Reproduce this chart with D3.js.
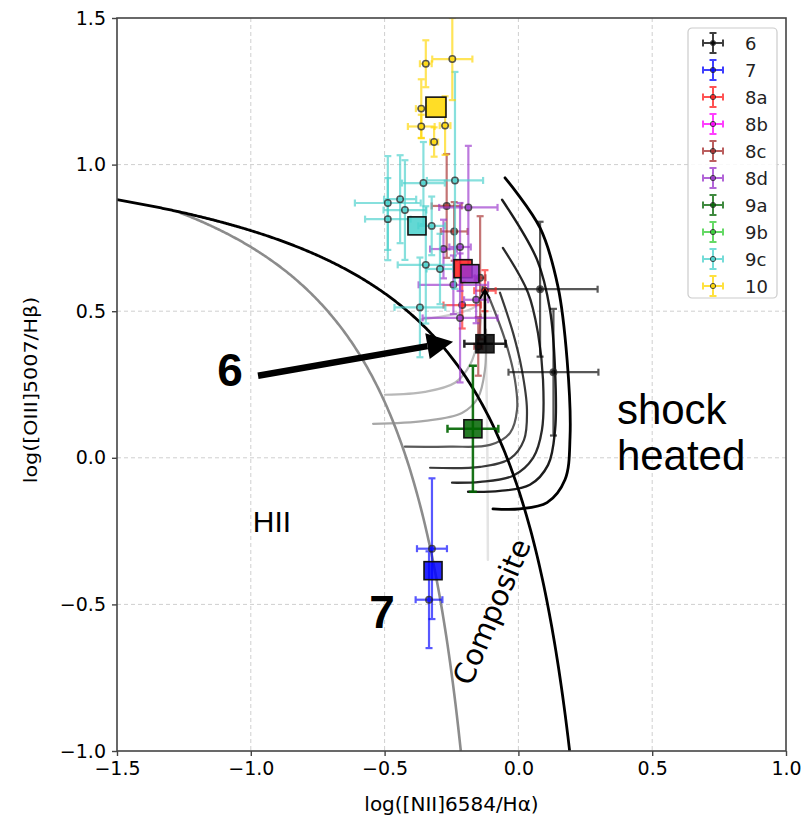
<!DOCTYPE html>
<html>
<head>
<meta charset="utf-8">
<script src="https://cdn.jsdelivr.net/npm/d3@7"></script>
<style>
  body { margin: 0; background: #fff; }
  text { font-family: "DejaVu Sans", sans-serif; }
</style>
</head>
<body>
<svg id="chart" width="808" height="819"></svg>
<script>
// ---- axes ----
const xTicks = [-1.5, -1.0, -0.5, 0.0, 0.5, 1.0];
const yTicks = [-1.0, -0.5, 0.0, 0.5, 1.0, 1.5];
const xLabel = "log([NII]6584/Hα)";
const yLabel = "log([OIII]5007/Hβ)";

// ---- demarcation lines: y = a / (x - b) + c ----
const kewley01 = { a: 0.61, b: 0.47, c: 1.19, xStart: -1.5 };
const kauffmann03 = { a: 0.61, b: 0.05, c: 1.30, xStart: -1.28 };

// ---- shock model grid tracks [log NII/Ha, log OIII/Hb] ----
const shockTrack1 = [[-0.050,0.955],[0.081,0.784],[0.148,0.583],[0.182,0.334],[0.193,0.072],[0.174,-0.075],[0.107,-0.153],[0.006,-0.174],[-0.095,-0.174]];
const shockTrack2 = [[-0.061,0.880],[0.070,0.675],[0.118,0.505],[0.137,0.300],[0.137,0.095],[0.111,-0.024],[0.043,-0.092],[-0.069,-0.113],[-0.188,-0.116]];
const shockTrack3 = [[-0.058,0.716],[0.036,0.563],[0.073,0.426],[0.092,0.266],[0.088,0.095],[0.055,0.000],[-0.020,-0.061],[-0.143,-0.082],[-0.248,-0.085]];
const shockTrack4 = [[-0.069,0.563],[-0.020,0.426],[0.013,0.300],[0.032,0.164],[0.021,0.061],[-0.031,-0.003],[-0.143,-0.031],[-0.330,-0.034]];
const shockTrack5 = [[-0.106,0.539],[-0.050,0.402],[-0.013,0.266],[-0.005,0.164],[-0.031,0.085],[-0.106,0.044],[-0.256,0.038],[-0.424,0.038]];
const shockTrack6 = [[-0.543,0.116],[-0.349,0.126],[-0.211,0.153],[-0.151,0.205],[-0.125,0.300],[-0.121,0.437]];
const shockTrack7 = [[-0.499,0.215],[-0.349,0.225],[-0.237,0.256],[-0.181,0.317],[-0.151,0.402],[-0.140,0.488]];
const shockTrack8 = [[-0.368,0.471],[-0.237,0.491],[-0.162,0.515],[-0.125,0.556]];
const shockTrack9 = [[-0.125,0.539],[-0.117,0.130],[-0.114,-0.348]];

// ---- regions ----
const groups = ["6", "7", "8a", "8b", "8c", "8d", "9a", "9b", "9c", "10"];
const groupColors = ["#000000", "#0000ff", "#ff1a1a", "#ff00ff", "#a52a2a", "#9932cc", "#006400", "#32cd32", "#48d1cc", "#ffd700"];

// individual spaxels: [x, y, xerr, yerrLow, yerrHigh]
const spax6  = [[0.081,0.575,0.215,0.23,0.23],[0.131,0.292,0.168,0.216,0.216]];
const spax7  = [[-0.323,-0.310,0.056,0.24,0.24],[-0.334,-0.484,0.050,0.165,0.165]];
const spax8a = [[-0.210,0.521,0.070,0.08,0.08],[-0.125,0.570,0.040,0.07,0.07]];
const spax8b = [];
const spax8c = [[-0.268,0.859,0.056,0.177,0.177],[-0.240,0.772,0.050,0.10,0.10],[-0.143,0.614,0.020,0.21,0.21],[-0.150,0.380,0.015,0.10,0.10]];
const spax8d = [[-0.187,0.854,0.109,0.21,0.21],[-0.218,0.719,0.040,0.15,0.15],[-0.280,0.712,0.050,0.10,0.10],[-0.243,0.590,0.130,0.10,0.10],[-0.158,0.539,0.045,0.08,0.08],[-0.218,0.477,0.140,0.22,0.22]];
const spax9a = [];
const spax9b = [];
const spax9c = [[-0.237,0.946,0.105,0.37,0.37],[-0.355,0.937,0.080,0.14,0.14],[-0.488,0.869,0.123,0.16,0.16],[-0.442,0.882,0.060,0.15,0.15],[-0.424,0.845,0.080,0.17,0.17],[-0.488,0.814,0.085,0.14,0.14],[-0.324,0.791,0.050,0.10,0.10],[-0.346,0.658,0.105,0.20,0.20],[-0.293,0.644,0.050,0.12,0.12],[-0.368,0.513,0.095,0.17,0.17]];
const spax10 = [[-0.346,1.344,0.022,0.08,0.08],[-0.247,1.360,0.075,0.14,0.14],[-0.363,1.191,0.020,0.10,0.10],[-0.363,1.130,0.050,0.04,0.04],[-0.274,1.133,0.020,0.10,0.10],[-0.315,1.077,0.015,0.05,0.05]];
const spaxels = [spax6, spax7, spax8a, spax8b, spax8c, spax8d, spax9a, spax9b, spax9c, spax10];

// region averages: [x, y, xerr, yerrLow, yerrHigh] (null when not plotted)
const regionMeans = [
  [-0.125, 0.389, 0.077, 0.0, 0.184],
  [-0.319, -0.385, 0.0, 0.0, 0.0],
  [-0.207, 0.645, 0.0, 0.0, 0.0],
  null,
  null,
  [-0.181, 0.628, 0.0, 0.0, 0.0],
  [-0.170, 0.099, 0.095, 0.215, 0.215],
  null,
  [-0.379, 0.791, 0.0, 0.0, 0.0],
  [-0.308, 1.196, 0.0, 0.0, 0.0]
];
const upperLimitGroup = "6";

// ---- annotations ----
const arrowFrom = [-0.973, 0.280];
const arrowTo = [-0.244, 0.396];

// ---- layout ----
const W = 808, H = 819;
const plot = { left: 117, right: 786, top: 18, bottom: 751 };
const svg = d3.select("#chart");
svg.append("rect").attr("width", W).attr("height", H).attr("fill", "#fff");

const x = d3.scaleLinear().domain([-1.5, 1.0]).range([plot.left, plot.right]);
const y = d3.scaleLinear().domain([-1.0, 1.5]).range([plot.bottom, plot.top]);

svg.append("defs").append("clipPath").attr("id", "plotClip")
  .append("rect").attr("x", plot.left).attr("y", plot.top)
  .attr("width", plot.right - plot.left).attr("height", plot.bottom - plot.top);

// grid
const grid = svg.append("g").attr("stroke", "#cfcfcf").attr("stroke-width", 1).attr("stroke-dasharray", "4,3");
grid.selectAll(".gx").data(xTicks.slice(1, -1)).join("line")
  .attr("x1", d => x(d)).attr("x2", d => x(d)).attr("y1", plot.top).attr("y2", plot.bottom);
grid.selectAll(".gy").data(yTicks.slice(1, -1)).join("line")
  .attr("y1", d => y(d)).attr("y2", d => y(d)).attr("x1", plot.left).attr("x2", plot.right);

const body = svg.append("g").attr("clip-path", "url(#plotClip)");
const line = d3.line().x(d => x(d[0])).y(d => y(d[1]));
const smooth = d3.line().x(d => x(d[0])).y(d => y(d[1])).curve(d3.curveCatmullRom.alpha(0.5));

// shock model tracks
const shockTracks = [shockTrack9, shockTrack8, shockTrack7, shockTrack6, shockTrack5, shockTrack4, shockTrack3, shockTrack2, shockTrack1];
const trackShades = ["#e4e4e4", "#cdcdcd", "#b8b8b8", "#a8a8a8", "#5a5a5a", "#3a3a3a", "#2a2a2a", "#1c1c1c", "#000000"];
const trackWidths = [2.5, 2.2, 2.2, 2.2, 2.2, 2.2, 2.3, 2.4, 2.8];
shockTracks.forEach((t, i) => {
  body.append("path").attr("d", smooth(t)).attr("fill", "none")
    .attr("stroke", trackShades[i]).attr("stroke-width", trackWidths[i])
    .attr("stroke-linecap", "round");
});

// demarcation curves
function demarcation(p) {
  const xEnd = p.b + p.a / (-1.0 - p.c);
  const xs = d3.range(p.xStart, xEnd, 0.005).concat([xEnd]);
  return xs.map(v => [v, p.a / (v - p.b) + p.c]);
}
body.append("path").attr("d", line(demarcation(kauffmann03))).attr("fill", "none")
  .attr("stroke", "#8c8c8c").attr("stroke-width", 2.6);
body.append("path").attr("d", line(demarcation(kewley01))).attr("fill", "none")
  .attr("stroke", "#000").attr("stroke-width", 2.8);

// error bars
function errorBar(g, d, color, cap, width, opacity) {
  const [px, py, xe, yl, yh] = d;
  const e = g.append("g").attr("stroke", color).attr("stroke-width", width).attr("opacity", opacity);
  if (xe > 0) {
    e.append("line").attr("x1", x(px - xe)).attr("x2", x(px + xe)).attr("y1", y(py)).attr("y2", y(py));
    [px - xe, px + xe].forEach(v => e.append("line").attr("x1", x(v)).attr("x2", x(v))
      .attr("y1", y(py) - cap).attr("y2", y(py) + cap));
  }
  if (yl > 0 || yh > 0) {
    e.append("line").attr("x1", x(px)).attr("x2", x(px)).attr("y1", y(py - yl)).attr("y2", y(py + yh));
    [[py - yl, yl], [py + yh, yh]].forEach(([v, len]) => {
      if (len > 0) e.append("line").attr("y1", y(v)).attr("y2", y(v))
        .attr("x1", x(px) - cap).attr("x2", x(px) + cap);
    });
  }
}

groups.forEach((gname, i) => {
  const g = body.append("g");
  spaxels[i].forEach(d => errorBar(g, d, groupColors[i], 3.5, 2.2, 0.65));
  spaxels[i].forEach(d => {
    g.append("circle").attr("cx", x(d[0])).attr("cy", y(d[1])).attr("r", 3.2)
      .attr("fill", groupColors[i]).attr("stroke", "#222").attr("stroke-width", 1.5).attr("opacity", 0.75);
  });
});

// region averages
groups.forEach((gname, i) => {
  const m = regionMeans[i];
  if (!m) return;
  const g = body.append("g");
  if (gname === upperLimitGroup) {
    // upper-limit bar with arrow head
    const top = y(m[1] + m[4]);
    g.append("line").attr("x1", x(m[0])).attr("x2", x(m[0])).attr("y1", y(m[1])).attr("y2", top + 2)
      .attr("stroke", "#000").attr("stroke-width", 2.5);
    g.append("path").attr("d", `M${x(m[0]) - 5},${top + 9} L${x(m[0])},${top} L${x(m[0]) + 5},${top + 9}`)
      .attr("fill", "none").attr("stroke", "#000").attr("stroke-width", 2);
    errorBar(g, [m[0], m[1], m[2], 0, 0], "#000", 4, 2.5, 0.85);
  } else {
    errorBar(g, m, groupColors[i], 4, 2.5, 0.9);
  }
  const s = gname === "10" ? 20 : 18;
  g.append("rect").attr("x", x(m[0]) - s / 2).attr("y", y(m[1]) - s / 2)
    .attr("width", s).attr("height", s)
    .attr("fill", groupColors[i]).attr("fill-opacity", 0.85)
    .attr("stroke", "#111").attr("stroke-width", 1.6);
});

// arrow pointing at region 6
(function () {
  const x0 = x(arrowFrom[0]), y0 = y(arrowFrom[1]);
  const x1 = x(arrowTo[0]), y1 = y(arrowTo[1]);
  const ang = Math.atan2(y1 - y0, x1 - x0);
  const headL = 26, headW = 13;
  const bx = x1 - headL * Math.cos(ang), by = y1 - headL * Math.sin(ang);
  svg.append("line").attr("x1", x0).attr("y1", y0).attr("x2", bx).attr("y2", by)
    .attr("stroke", "#000").attr("stroke-width", 6.5);
  const nx = -Math.sin(ang), ny = Math.cos(ang);
  svg.append("path")
    .attr("d", `M${x1},${y1} L${bx + nx * headW},${by + ny * headW} L${bx - nx * headW},${by - ny * headW} Z`)
    .attr("fill", "#000");
})();

// annotations
const arial = "'Liberation Sans', Arial, sans-serif";
svg.append("text").attr("x", x(-1.078)).attr("y", y(0.300)).attr("text-anchor", "middle")
  .attr("dominant-baseline", "central").style("font-family", arial)
  .style("font-weight", "bold").style("font-size", "46px").text("6");
svg.append("text").attr("x", x(-0.510)).attr("y", y(-0.525)).attr("text-anchor", "middle")
  .attr("dominant-baseline", "central").style("font-family", arial)
  .style("font-weight", "bold").style("font-size", "46px").text("7");
svg.append("text").attr("x", x(-0.921)).attr("y", y(-0.218)).attr("text-anchor", "middle")
  .attr("dominant-baseline", "central").style("font-family", arial)
  .style("font-size", "30px").text("HII");
svg.append("text").attr("x", x(0.368)).attr("y", y(0.116))
  .style("font-family", arial).style("font-size", "42px").text("shock");
svg.append("text").attr("x", x(0.368)).attr("y", y(-0.041))
  .style("font-family", arial).style("font-size", "42px").text("heated");
svg.append("text")
  .attr("transform", `translate(${x(-0.099)},${y(-0.525)}) rotate(-67)`)
  .attr("text-anchor", "middle").attr("dominant-baseline", "central")
  .style("font-size", "29px").text("Composite");

// frame
svg.append("rect").attr("x", plot.left).attr("y", plot.top)
  .attr("width", plot.right - plot.left).attr("height", plot.bottom - plot.top)
  .attr("fill", "none").attr("stroke", "#444").attr("stroke-width", 1.6);

// axes
const fmt = d3.format(".1f");
const xAxis = svg.append("g").attr("transform", `translate(0,${plot.bottom})`)
  .call(d3.axisBottom(x).tickValues(xTicks).tickFormat(fmt).tickSize(5).tickPadding(6));
const yAxis = svg.append("g").attr("transform", `translate(${plot.left},0)`)
  .call(d3.axisLeft(y).tickValues(yTicks).tickFormat(fmt).tickSize(5).tickPadding(6));
[xAxis, yAxis].forEach(a => {
  a.select(".domain").remove();
  a.selectAll(".tick line").attr("stroke", "#444").attr("stroke-width", 1.4);
  a.selectAll(".tick text").style("font-family", "'DejaVu Sans', sans-serif").style("font-size", "19px").attr("fill", "#000");
});

svg.append("text").attr("x", (plot.left + plot.right) / 2).attr("y", 811).attr("text-anchor", "middle")
  .style("font-size", "20px").text(xLabel);
svg.append("text").attr("transform", `translate(31,390) rotate(-90) scale(1.15,1)`)
  .attr("text-anchor", "middle").attr("dominant-baseline", "central")
  .style("font-size", "18px").text(yLabel);

// legend
const lg = svg.append("g").attr("transform", "translate(688,28)");
lg.append("rect").attr("width", 89).attr("height", 270).attr("rx", 4)
  .attr("fill", "#fff").attr("fill-opacity", 0.85).attr("stroke", "#cccccc").attr("stroke-width", 1.2);
groups.forEach((gname, i) => {
  const cy = 15 + i * 27, cx = 25;
  const e = lg.append("g").attr("stroke", groupColors[i]).attr("stroke-width", 2).attr("opacity", 0.75);
  e.append("line").attr("x1", cx - 10).attr("x2", cx + 10).attr("y1", cy).attr("y2", cy);
  e.append("line").attr("x1", cx).attr("x2", cx).attr("y1", cy - 10).attr("y2", cy + 10);
  [-10, 10].forEach(o => {
    e.append("line").attr("x1", cx + o).attr("x2", cx + o).attr("y1", cy - 3.5).attr("y2", cy + 3.5);
    e.append("line").attr("y1", cy + o).attr("y2", cy + o).attr("x1", cx - 3.5).attr("x2", cx + 3.5);
  });
  lg.append("circle").attr("cx", cx).attr("cy", cy).attr("r", 2.6)
    .attr("fill", groupColors[i]).attr("stroke", "#222").attr("stroke-width", 1).attr("opacity", 0.8);
  lg.append("text").attr("x", 57).attr("y", cy).attr("dominant-baseline", "central")
    .style("font-size", "18px").attr("fill", "#222").text(gname);
});
</script>
</body>
</html>
